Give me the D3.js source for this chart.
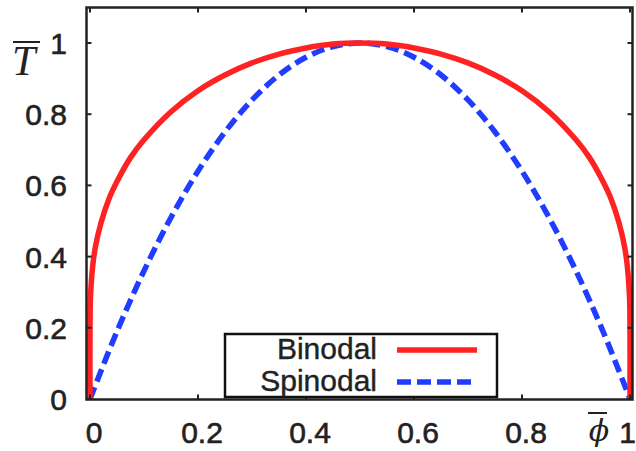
<!DOCTYPE html>
<html><head><meta charset="utf-8">
<script src="https://cdn.jsdelivr.net/npm/d3@7"></script>
<style>body{margin:0;background:#fff}svg{display:block}</style>
</head><body>
<svg id="c" width="636" height="451"></svg>
<script>
const phi = [0, 0.0001, 0.001, 0.005, 0.01, 0.02, 0.035, 0.05, 0.075, 0.1, 0.15, 0.2, 0.25, 0.3, 0.35, 0.4, 0.45, 0.5,
             0.55, 0.6, 0.65, 0.7, 0.75, 0.8, 0.85, 0.9, 0.925, 0.95, 0.965, 0.98, 0.99, 0.995, 0.999, 0.9999, 1];
const binodal = [0, 0.22, 0.29, 0.374, 0.427, 0.493, 0.562, 0.611, 0.678, 0.728, 0.807, 0.866, 0.910, 0.944, 0.969, 0.986, 0.997, 1,
                 0.997, 0.986, 0.969, 0.944, 0.910, 0.866, 0.807, 0.728, 0.678, 0.611, 0.562, 0.493, 0.427, 0.374, 0.29, 0.22, 0];
const spinPhi = [0, 0.05, 0.1, 0.15, 0.2, 0.25, 0.3, 0.35, 0.4, 0.45, 0.5, 0.55, 0.6, 0.65, 0.7, 0.75, 0.8, 0.85, 0.9, 0.95, 1];
const spinodal = [0, 0.19, 0.36, 0.51, 0.64, 0.75, 0.84, 0.91, 0.96, 0.99, 1, 0.99, 0.96, 0.91, 0.84, 0.75, 0.64, 0.51, 0.36, 0.19, 0];
const xTicks = [0, 0.2, 0.4, 0.6, 0.8, 1];
const xTickLabels = ["0", "0.2", "0.4", "0.6", "0.8", "1"];
const yTicks = [0, 0.2, 0.4, 0.6, 0.8, 1];
const yTickLabels = ["0", "0.2", "0.4", "0.6", "0.8", "1"];
const legendLabels = ["Binodal", "Spinodal"];

const svg = d3.select("#c");
const x = d3.scaleLinear().domain([0, 1]).range([90, 630]);
const y = d3.scaleLinear().domain([0, 1.1]).range([399, 7.4]);
const frame = {l: 86.5, r: 632.5, t: 7.5, b: 399.5};

const line = d3.line().x(d => x(d[0])).y(d => y(d[1])).curve(d3.curveCatmullRom.alpha(0.5));

svg.append("path").datum(spinPhi.map((p, i) => [p, spinodal[i]]))
  .attr("d", line).attr("fill", "none").attr("stroke", "#1f3cff")
  .attr("stroke-width", 5.5).attr("stroke-dasharray", "13,6");
svg.append("path").datum(phi.map((p, i) => [p, binodal[i]]))
  .attr("d", line).attr("fill", "none").attr("stroke", "#ff2222")
  .attr("stroke-width", 5.5);

// frame
svg.append("rect").attr("x", frame.l).attr("y", frame.t)
  .attr("width", frame.r - frame.l).attr("height", frame.b - frame.t)
  .attr("fill", "none").attr("stroke", "#222").attr("stroke-width", 2.5);

// ticks (inward, mirrored)
const tk = 5;
xTicks.forEach(v => {
  svg.append("line").attr("x1", x(v)).attr("x2", x(v)).attr("y1", frame.b).attr("y2", frame.b - tk).attr("stroke", "#222").attr("stroke-width", 2);
  svg.append("line").attr("x1", x(v)).attr("x2", x(v)).attr("y1", frame.t).attr("y2", frame.t + tk).attr("stroke", "#222").attr("stroke-width", 2);
});
yTicks.forEach(v => {
  svg.append("line").attr("x1", frame.l).attr("x2", frame.l + tk).attr("y1", y(v)).attr("y2", y(v)).attr("stroke", "#222").attr("stroke-width", 2);
  svg.append("line").attr("x1", frame.r).attr("x2", frame.r - tk).attr("y1", y(v)).attr("y2", y(v)).attr("stroke", "#222").attr("stroke-width", 2);
});

const tf = "'Liberation Sans', Arial, sans-serif";
svg.selectAll(".xl").data(xTicks).enter().append("text")
  .attr("x", d => d === 1 ? 636 : x(d) + 4).attr("y", 443)
  .attr("text-anchor", d => d === 1 ? "end" : "middle")
  .attr("font-family", tf).attr("font-size", 30).attr("fill", "#222")
  .attr("stroke", "#222").attr("stroke-width", 0.6)
  .text((d, i) => xTickLabels[i]);
svg.selectAll(".yl").data(yTicks).enter().append("text")
  .attr("x", 67).attr("y", d => y(d) + 11).attr("text-anchor", "end")
  .attr("font-family", tf).attr("font-size", 30).attr("fill", "#222")
  .attr("stroke", "#222").attr("stroke-width", 0.6)
  .text((d, i) => yTickLabels[i]);

// axis titles
svg.append("text").attr("x", 12).attr("y", 75)
  .attr("font-family", "'Liberation Serif', serif").attr("font-style", "italic")
  .attr("font-size", 42).attr("fill", "#222").text("T");
svg.append("line").attr("x1", 13).attr("x2", 40).attr("y1", 42).attr("y2", 42).attr("stroke", "#222").attr("stroke-width", 2);
svg.append("text").attr("x", 599).attr("y", 441).attr("text-anchor", "middle")
  .attr("font-family", "'DejaVu Serif', serif").attr("font-style", "italic")
  .attr("font-size", 30).attr("fill", "#222").text("ϕ");
svg.append("line").attr("x1", 588).attr("x2", 607).attr("y1", 413).attr("y2", 413).attr("stroke", "#222").attr("stroke-width", 2);

// legend
svg.append("rect").attr("x", 225).attr("y", 334).attr("width", 272).attr("height", 63)
  .attr("fill", "#fff").attr("stroke", "#111").attr("stroke-width", 2.5);
const ly = [350, 382];
legendLabels.forEach((t, i) => {
  svg.append("text").attr("x", 377).attr("y", ly[i] + 9).attr("text-anchor", "end")
    .attr("font-family", tf).attr("font-size", 30).attr("fill", "#222")
    .attr("stroke", "#222").attr("stroke-width", 0.4).text(t);
});
svg.append("line").attr("x1", 397).attr("x2", 477).attr("y1", ly[0]).attr("y2", ly[0])
  .attr("stroke", "#ff2222").attr("stroke-width", 5.5);
svg.append("line").attr("x1", 397).attr("x2", 477).attr("y1", ly[1]).attr("y2", ly[1])
  .attr("stroke", "#1f3cff").attr("stroke-width", 5.5).attr("stroke-dasharray", "14,6");
</script>
</body></html>
